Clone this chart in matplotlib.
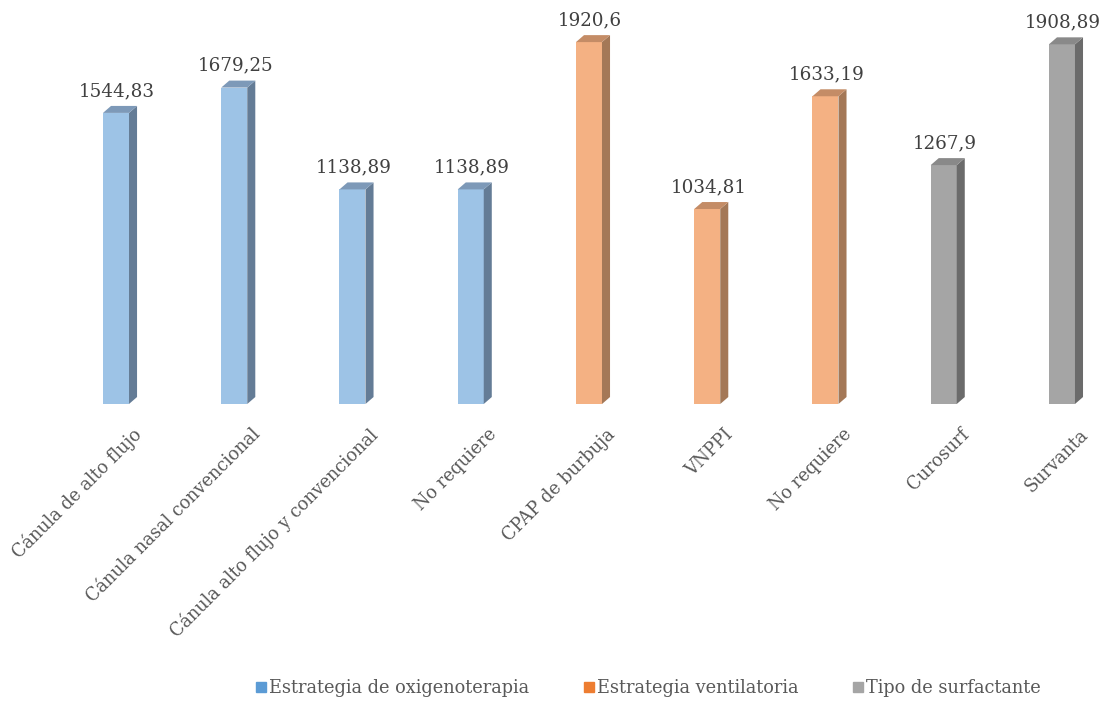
import matplotlib.pyplot as plt
from matplotlib.patches import Polygon
from matplotlib.lines import Line2D
from matplotlib.transforms import ScaledTranslation

categories = ['Cánula de alto flujo', 'Cánula nasal convencional',
              'Cánula alto flujo y convencional', 'No requiere',
              'CPAP de burbuja', 'VNPPI', 'No requiere',
              'Curosurf', 'Survanta']
values = [1544.83, 1679.25, 1138.89, 1138.89, 1920.6, 1034.81, 1633.19, 1267.9, 1908.89]
labels = ['1544,83', '1679,25', '1138,89', '1138,89', '1920,6', '1034,81', '1633,19', '1267,9', '1908,89']
groups = [0, 0, 0, 0, 1, 1, 1, 2, 2]
series = ['Estrategia de oxigenoterapia', 'Estrategia ventilatoria', 'Tipo de surfactante']

# front, side, top, legend colour per series
front = ['#9DC3E6', '#F4B183', '#A5A5A5']
side = ['#647C96', '#A47857', '#6B6B6B']
top = ['#7D99B8', '#C48C66', '#898989']
legend_col = ['#5B9BD5', '#ED7D31', '#A5A5A5']

plt.rcParams['font.family'] = ['DejaVu Serif']

fig = plt.figure(figsize=(11.03, 7.04), dpi=100)
ax = fig.add_axes([0, 300 / 704, 1, 404 / 704])
ax.set_xlim(-0.981, 8.347)
ax.set_ylim(0, 2144)

w = 0.22      # front width
dx = 0.068    # depth in x
dy = 37       # depth in y

for i, (v, g) in enumerate(zip(values, groups)):
    x0 = i - w / 2
    x1 = i + w / 2
    ax.add_patch(Polygon([(x0, 0), (x1, 0), (x1, v), (x0, v)],
                         closed=True, facecolor=front[g], edgecolor='none'))
    ax.add_patch(Polygon([(x1, 0), (x1 + dx, dy), (x1 + dx, v + dy), (x1, v)],
                         closed=True, facecolor=side[g], edgecolor='none'))
    ax.add_patch(Polygon([(x0, v), (x1, v), (x1 + dx, v + dy), (x0 + dx, v + dy)],
                         closed=True, facecolor=top[g], edgecolor='none'))
    ax.text(i + 0.01, v + 90, labels[i], ha='center', va='baseline',
            fontsize=13.2, color='#404040')

ax.set_xticks(range(len(categories)))
ax.set_xticklabels(categories, rotation=45, ha='right', va='center',
                   rotation_mode='anchor', fontsize=12.7, color='#595959')
ax.tick_params(axis='x', length=0, pad=20)
off = ScaledTranslation(0.23, 0, fig.dpi_scale_trans)
for lab in ax.get_xticklabels():
    lab.set_transform(lab.get_transform() + off)
ax.set_yticks([])
for s in ax.spines.values():
    s.set_visible(False)

handles = [Line2D([], [], marker='s', linestyle='none', markersize=7,
                  markerfacecolor=c, markeredgecolor=c) for c in legend_col]
fig.legend(handles, series, loc='center', bbox_to_anchor=(648 / 1103, 1 - 688 / 704),
           ncol=3, frameon=False, fontsize=12.8, handlelength=0.7, handletextpad=0.1,
           columnspacing=3.0, labelcolor='#595959')

fig.savefig('out.png', dpi=100)
